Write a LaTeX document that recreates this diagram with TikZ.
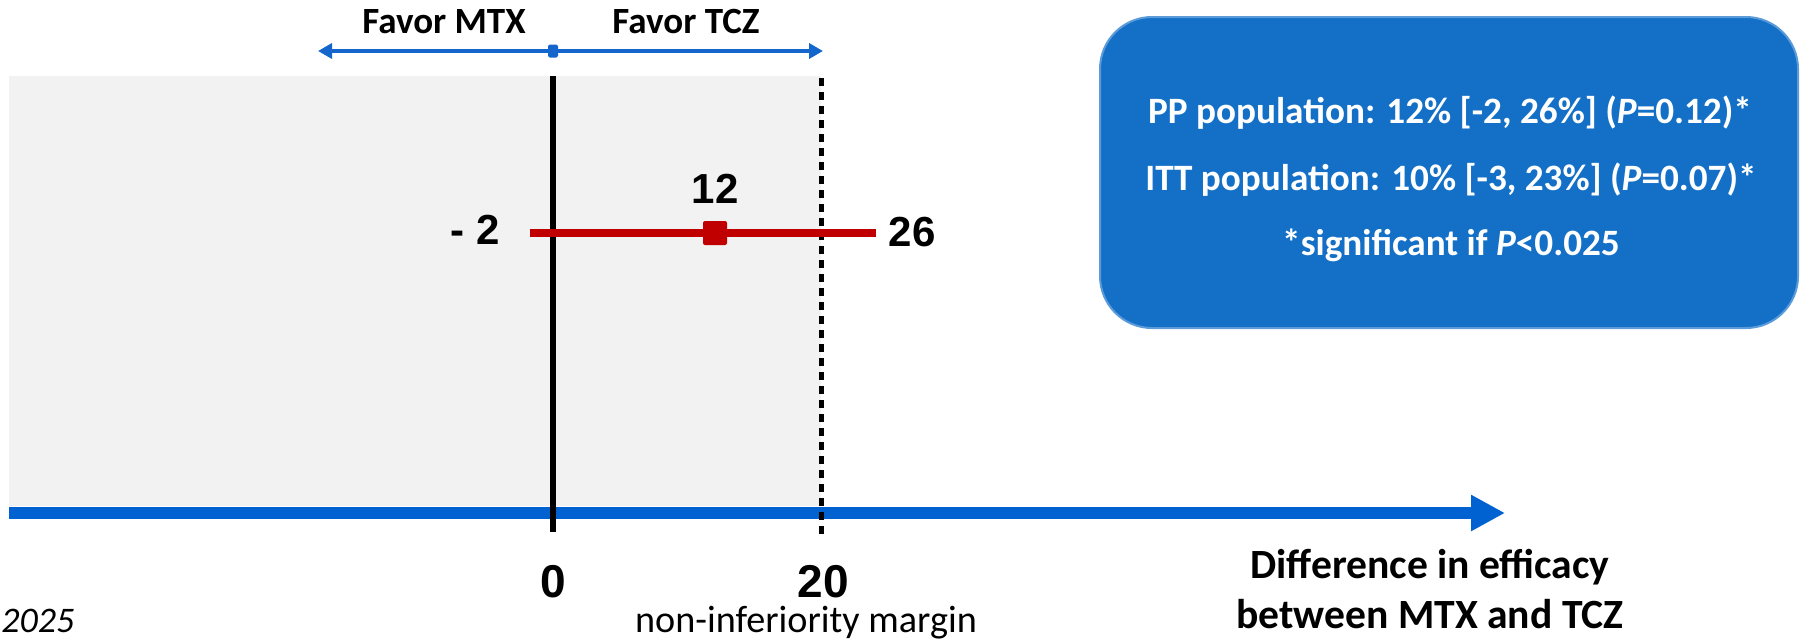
\documentclass[tikz,border=0pt]{standalone}
\usepackage{fontspec}
\setmainfont{Carlito}
\newfontfamily\numfont{Liberation Sans}
\usetikzlibrary{arrows.meta}
\definecolor{axisblue}{HTML}{0062D0}
\definecolor{boxblue}{HTML}{1470C6}
\definecolor{boxedge}{HTML}{5C9BDA}
\definecolor{arrblue}{HTML}{1466CC}
\definecolor{cired}{HTML}{C00000}
\definecolor{panelgray}{HTML}{F2F2F2}
\tikzset{
  lbl/.style={inner sep=0pt, anchor=base, font=\bfseries\fontsize{18.5pt}{22pt}\selectfont},
  num/.style={inner sep=0pt, anchor=base, font=\numfont\bfseries\fontsize{21pt}{24pt}\selectfont},
  bignum/.style={inner sep=0pt, anchor=base, font=\numfont\bfseries\fontsize{23pt}{26pt}\selectfont},
  boxtext/.style={inner sep=0pt, anchor=base, text=white, font=\bfseries\fontsize{18.6pt}{22pt}\selectfont},
  infobox/.style={fill=boxblue, draw=boxedge, line width=1pt, rounded corners=26pt, inner sep=0pt},
}
\begin{document}
\begin{tikzpicture}[x=0.5pt,y=-0.5pt]
\useasboundingbox (0,0) rectangle (1802,643);
% shaded region
\fill[panelgray] (9,76) rectangle (821,506);
% horizontal axis
\coordinate (axL) at (9,513);
\coordinate (axR) at (1505,513);
\draw[axisblue, line width=5.8pt, -{Triangle[length=17pt,width=17pt]}] (axL) -- (axR);
% zero line
\coordinate (zT) at (553,76);
\coordinate (zB) at (553,532);
\draw[black, line width=3pt] (zT) -- (zB);
% margin line
\coordinate (mT) at (821,78);
\coordinate (mB) at (821,536);
\draw[black, line width=2.5pt, dash pattern=on 3.8pt off 3.2pt] (mT) -- (mB);
% confidence interval
\coordinate (ciL) at (530,233);
\coordinate (ciR) at (876,233);
\draw[cired, line width=3.6pt] (ciL) -- (ciR);
\node[fill=cired, minimum size=12pt, inner sep=0pt, rounded corners=1pt] (pt) at (715,233) {};
% favor arrows
\coordinate (fL) at (318,51);
\coordinate (fR) at (823,51);
\node[fill=arrblue, minimum width=5pt, minimum height=6.5pt, inner sep=0pt, rounded corners=0.8pt] (fC) at (553,51) {};
\draw[arrblue, line width=2.4pt, {Triangle[length=7pt,width=7.5pt]}-] (fL) -- (fC);
\draw[arrblue, line width=2.4pt, -{Triangle[length=7pt,width=7.5pt]}] (fC) -- (fR);
\node[lbl] (fmtx) at (444,33) {Favor MTX};
\node[lbl] (ftcz) at (686,33) {Favor TCZ};
% numbers
\node[num] (n12) at (715,203) {12};
\node[num, anchor=base east] (nm2) at (500,244) {- 2};
\node[num] (n26) at (912,246) {26};
\node[bignum] (n0) at (553,597) {0};
\node[bignum] (n20) at (823,597) {20};
\node[inner sep=0pt, anchor=base, font=\fontsize{19.1pt}{22pt}\selectfont] (nim) at (806,632) {non-inferiority margin};
\node[inner sep=0pt, anchor=base west, font=\itshape\fontsize{18pt}{22pt}\selectfont] (yr) at (1,632) {2025};
\node[inner sep=0pt, anchor=base, font=\bfseries\fontsize{20.8pt}{24pt}\selectfont] (d1) at (1430,578) {Difference in efficacy};
\node[inner sep=0pt, anchor=base, font=\bfseries\fontsize{20.8pt}{24pt}\selectfont] (d2) at (1430,628) {between MTX and TCZ};
% info box
\node[infobox, minimum width=349pt, minimum height=155.5pt] (summary) at (1449,172.5) {};
\node[boxtext] (t1) at (1450,123) {PP population: 12\% [-2, 26\%] (\textit{P}=0.12)*};
\node[boxtext] (t2) at (1451,190) {ITT population: 10\% [-3, 23\%] (\textit{P}=0.07)*};
\node[boxtext] (t3) at (1451,255) {*significant if \textit{P}<0.025};
\end{tikzpicture}
\end{document}
